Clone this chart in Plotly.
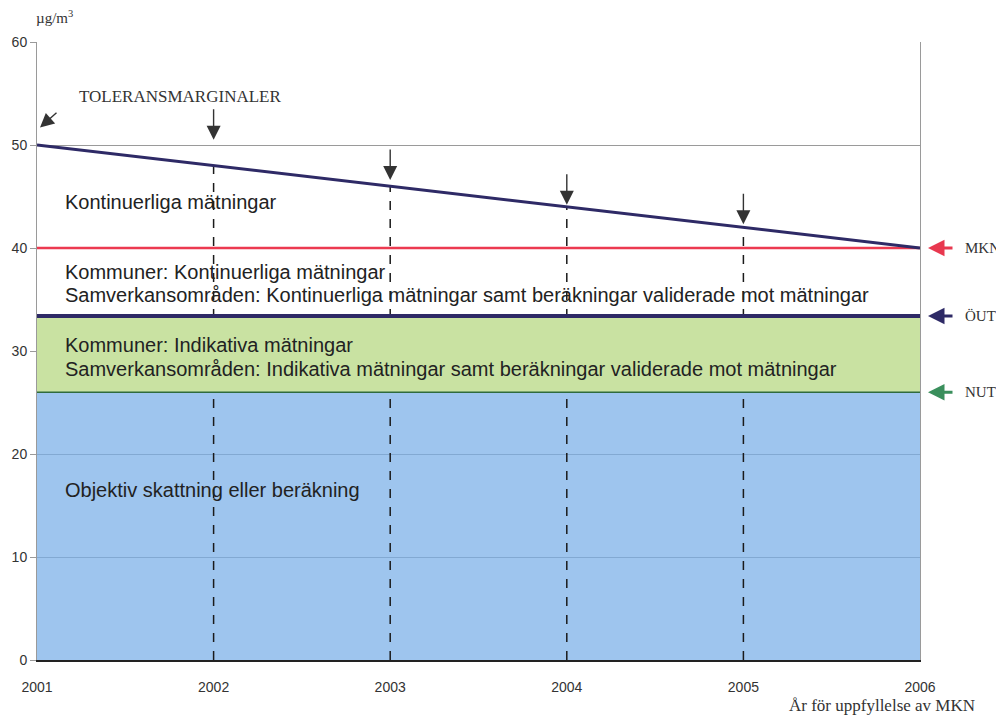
import plotly.graph_objects as go

# --- data ---
years = [2001, 2002, 2003, 2004, 2005, 2006]
tolerance = [50, 48, 46, 44, 42, 40]          # toleransmarginal per year
arrow_tips = [50.5, 46.6, 44.2, 42.3]         # where the year arrows point (2002-2005)
MKN = 40
OUT = 33.4
NUT = 26
y_ticks = [0, 10, 20, 30, 40, 50, 60]

band_texts = [
    ("Kontinuerliga mätningar", 44.5),
    ("Kommuner: Kontinuerliga mätningar", 37.7),
    ("Samverkansområden: Kontinuerliga mätningar samt beräkningar validerade mot mätningar", 35.4),
    ("Kommuner: Indikativa mätningar", 30.6),
    ("Samverkansområden: Indikativa mätningar samt beräkningar validerade mot mätningar", 28.3),
    ("Objektiv skattning eller beräkning", 16.5),
]
right_labels = [("MKN", MKN, "#e8384f"), ("ÖUT", OUT, "#2e2a66"), ("NUT", NUT, "#3a8f5c")]

NAVY = "#2e2a66"
SANS = "Liberation Sans, Arial, sans-serif"
SERIF = "Liberation Serif, Times New Roman, serif"

fig = go.Figure()

# blue band (0 -> NUT)
fig.add_trace(go.Scatter(
    x=[years[0], years[-1]], y=[NUT, NUT], mode="lines",
    line=dict(color="#2f6b3c", width=1.5),
    fill="tozeroy", fillcolor="rgba(120,174,232,0.72)",
    hoverinfo="skip", showlegend=False))

# dashed year lines
for yr, tol in zip(years[1:-1], tolerance[1:-1]):
    fig.add_trace(go.Scatter(
        x=[yr, yr], y=[0, tol], mode="lines",
        line=dict(color="#1a1a1a", width=1.5, dash="dash"),
        hoverinfo="skip", showlegend=False))

# green band (NUT -> ÖUT)
fig.add_trace(go.Scatter(
    x=[years[0], years[-1], years[-1], years[0], years[0]],
    y=[NUT, NUT, OUT, OUT, NUT], mode="lines",
    line=dict(width=0), fill="toself", fillcolor="#c9e2a2",
    hoverinfo="skip", showlegend=False))
fig.add_trace(go.Scatter(
    x=[years[0], years[-1]], y=[NUT, NUT], mode="lines",
    line=dict(color="#2f6b3c", width=1.5), hoverinfo="skip", showlegend=False))

# ÖUT line
fig.add_trace(go.Scatter(
    x=[years[0], years[-1]], y=[OUT, OUT], mode="lines",
    line=dict(color=NAVY, width=4), hoverinfo="skip", showlegend=False))

# MKN line
fig.add_trace(go.Scatter(
    x=[years[0], years[-1]], y=[MKN, MKN], mode="lines",
    line=dict(color="#ec3a50", width=2.5), hoverinfo="skip", showlegend=False))

# tolerance line
fig.add_trace(go.Scatter(
    x=years, y=tolerance, mode="lines",
    line=dict(color=NAVY, width=3), hoverinfo="skip", showlegend=False))

# band texts
for txt, yv in band_texts:
    fig.add_annotation(x=years[0], y=yv, xshift=26, text=txt, showarrow=False,
                       xanchor="left", align="left",
                       font=dict(family=SANS, size=20, color="#222"))

# arrows at each year
for yr, tip in zip(years[1:-1], arrow_tips):
    fig.add_annotation(x=yr, y=tip, ax=0, ay=-32, text="", showarrow=True,
                       arrowhead=2, arrowsize=2.0, arrowwidth=1.4, arrowcolor="#333")

# TOLERANSMARGINALER
fig.add_annotation(x=years[0], y=tolerance[0] + 1.7, xshift=3, ax=18, ay=-16, text="",
                   showarrow=True, arrowhead=2, arrowsize=2.0, arrowwidth=1.4,
                   arrowcolor="#333")
fig.add_annotation(x=2001.81, y=54.7, text="TOLERANSMARGINALER", showarrow=False,
                   font=dict(family=SERIF, size=17, color="#333"))

# right side labels
for lab, yv, col in right_labels:
    fig.add_annotation(x=years[-1], y=yv, xshift=8, ax=26, ay=0, text="",
                       showarrow=True, arrowhead=2, arrowsize=1.1, arrowwidth=3,
                       arrowcolor=col)
    fig.add_annotation(x=years[-1], y=yv, xshift=43, text=lab, showarrow=False,
                       xanchor="left", font=dict(family=SERIF, size=15, color="#333"))

fig.add_annotation(x=0, y=1.0, xref="paper", yref="paper", xshift=-3, yshift=14,
                   text="µg/m<sup>3</sup>", showarrow=False, xanchor="left", yanchor="bottom",
                   font=dict(family=SERIF, size=15, color="#333"))
fig.add_annotation(x=1.0, y=0, xref="paper", yref="paper", xshift=57, yshift=-34,
                   text="År för uppfyllelse av MKN", showarrow=False,
                   xanchor="right", yanchor="top",
                   font=dict(family=SERIF, size=17, color="#333"))

fig.update_xaxes(range=[years[0], years[-1]], tickvals=years, showgrid=False,
                 showline=True, linecolor="#222", linewidth=1.5, zeroline=False,
                 ticks="", ticklabelstandoff=13, automargin=False,
                 tickfont=dict(family=SANS, size=14, color="#333"))
fig.update_yaxes(range=[0, 60], tickvals=y_ticks, showgrid=True, gridcolor="#9a9a9a",
                 gridwidth=1, zeroline=False, showline=True, mirror=True,
                 linecolor="#9a9a9a", linewidth=1, ticks="outside", ticklen=6,
                 tickcolor="#9a9a9a", automargin=False,
                 tickfont=dict(family=SANS, size=14, color="#333"))

# page body has an 8px margin, so the figure is offset by 8px inside the window
fig.update_layout(
    width=996, height=709,
    margin=dict(l=29, r=84, t=34, b=57),
    paper_bgcolor="white", plot_bgcolor="white",
    showlegend=False,
)

fig.write_html("out.html")
